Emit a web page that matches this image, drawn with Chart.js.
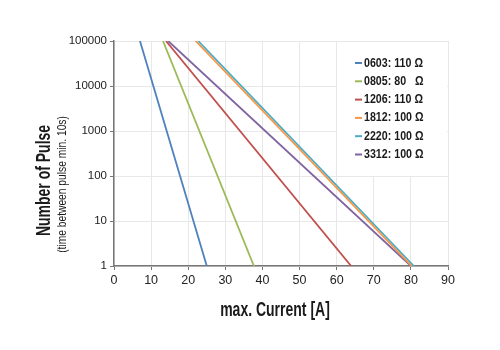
<!DOCTYPE html>
<html>
<head>
<meta charset="utf-8">
<script src="https://cdn.jsdelivr.net/npm/chart.js@4"></script>
<style>
html,body{margin:0;padding:0;background:#fff;}
#wrap{width:500px;height:350px;}
</style>
</head>
<body>
<div id="wrap"><canvas id="c" width="500" height="350"></canvas></div>
<script>
// ---- data ----
const seriesLabels = ['0603: 110 \u03A9', '0805: 80   \u03A9', '1206: 110 \u03A9', '1812: 100 \u03A9', '2220: 100 \u03A9', '3312: 100 \u03A9'];
const seriesColors = ['#4f81bd', '#9bbb59', '#c0504d', '#f79646', '#4bacc6', '#8064a2'];
// current [A] at 100000 pulses and at 1 pulse
const currentAtMaxPulses = [7.0, 13.2, 14.0, 22.0, 22.7, 14.6];
const currentAtOnePulse  = [25.0, 37.7, 63.9, 80.2, 80.8, 80.0];
const pulseRange = [100000, 1];
const yTicks = [1, 10, 100, 1000, 10000, 100000];
const xMin = 0, xMax = 90, xStep = 10;

const FONT = '"Liberation Sans", Arial, sans-serif';

const datasets = seriesLabels.map((lab, i) => ({
  label: lab,
  data: [
    {x: currentAtMaxPulses[i], y: pulseRange[0]},
    {x: currentAtOnePulse[i], y: pulseRange[1]}
  ],
  borderColor: seriesColors[i],
  backgroundColor: seriesColors[i],
  borderWidth: 1.8,
  pointRadius: 0,
  showLine: true,
  tension: 0
}));

function condText(ctx, text, x, y, sx) {
  ctx.save();
  ctx.translate(x, y);
  ctx.scale(sx, 1);
  ctx.fillText(text, 0, 0);
  ctx.restore();
}

const titlesPlugin = {
  id: 'titles',
  afterDraw(chart) {
    const ctx = chart.ctx;
    const area = chart.chartArea;
    ctx.save();
    ctx.fillStyle = '#1a1a1a';
    ctx.textAlign = 'center';
    ctx.textBaseline = 'middle';
    // x title
    ctx.font = 'bold 20px ' + FONT;
    condText(ctx, 'max. Current [A]', (area.left + area.right) / 2 - 6, 310, 0.7);
    // y title
    ctx.translate(44, (area.top + area.bottom) / 2 + 27);
    ctx.rotate(-Math.PI / 2);
    ctx.font = 'bold 20px ' + FONT;
    condText(ctx, 'Number of Pulse', 0, 0, 0.7);
    ctx.font = '12.5px ' + FONT;
    condText(ctx, '(time between pulse min. 10s)', -4, 19, 0.82);
    ctx.restore();

    // legend
    ctx.save();
    ctx.fillStyle = '#ffffff';
    ctx.fillRect(337, area.top + 1, area.right - 337 - 1, 134);
    ctx.font = 'bold 13px ' + FONT;
    ctx.textAlign = 'left';
    ctx.textBaseline = 'middle';
    chart.data.datasets.forEach((ds, i) => {
      const y = 63 + i * 18.3;
      ctx.strokeStyle = ds.borderColor;
      ctx.lineWidth = 2;
      ctx.beginPath();
      ctx.moveTo(355, y);
      ctx.lineTo(362, y);
      ctx.stroke();
      ctx.fillStyle = '#1a1a1a';
      condText(ctx, ds.label, 364, y, 0.82);
    });
    ctx.restore();
  }
};

new Chart(document.getElementById('c'), {
  type: 'scatter',
  data: { datasets },
  options: {
    responsive: false,
    animation: false,
    layout: { padding: { left: 0, right: 52, top: 41, bottom: 0 } },
    plugins: { legend: { display: false }, tooltip: { enabled: false } },
    scales: {
      x: {
        type: 'linear',
        min: xMin, max: xMax,
        ticks: { stepSize: xStep, color: '#222', font: { family: FONT, size: 12.5 }, padding: 3 },
        grid: { color: '#e8e8e8', tickColor: '#777', tickLength: 4, lineWidth: 1 },
        border: { color: '#777', width: 1.5 },
        afterFit(s) { s.height = 350 - 266; }
      },
      y: {
        type: 'logarithmic',
        min: 1, max: 100000,
        afterBuildTicks(s) { s.ticks = yTicks.map(v => ({ value: v })); },
        ticks: {
          color: '#222', font: { family: FONT, size: 11.5 }, padding: 3,
          callback: (v) => String(v)
        },
        grid: { color: '#e8e8e8', tickColor: '#777', tickLength: 4, lineWidth: 1 },
        border: { color: '#777', width: 1.5 },
        afterFit(s) { s.width = 114; }
      }
    }
  },
  plugins: [titlesPlugin]
});
</script>
</body>
</html>
